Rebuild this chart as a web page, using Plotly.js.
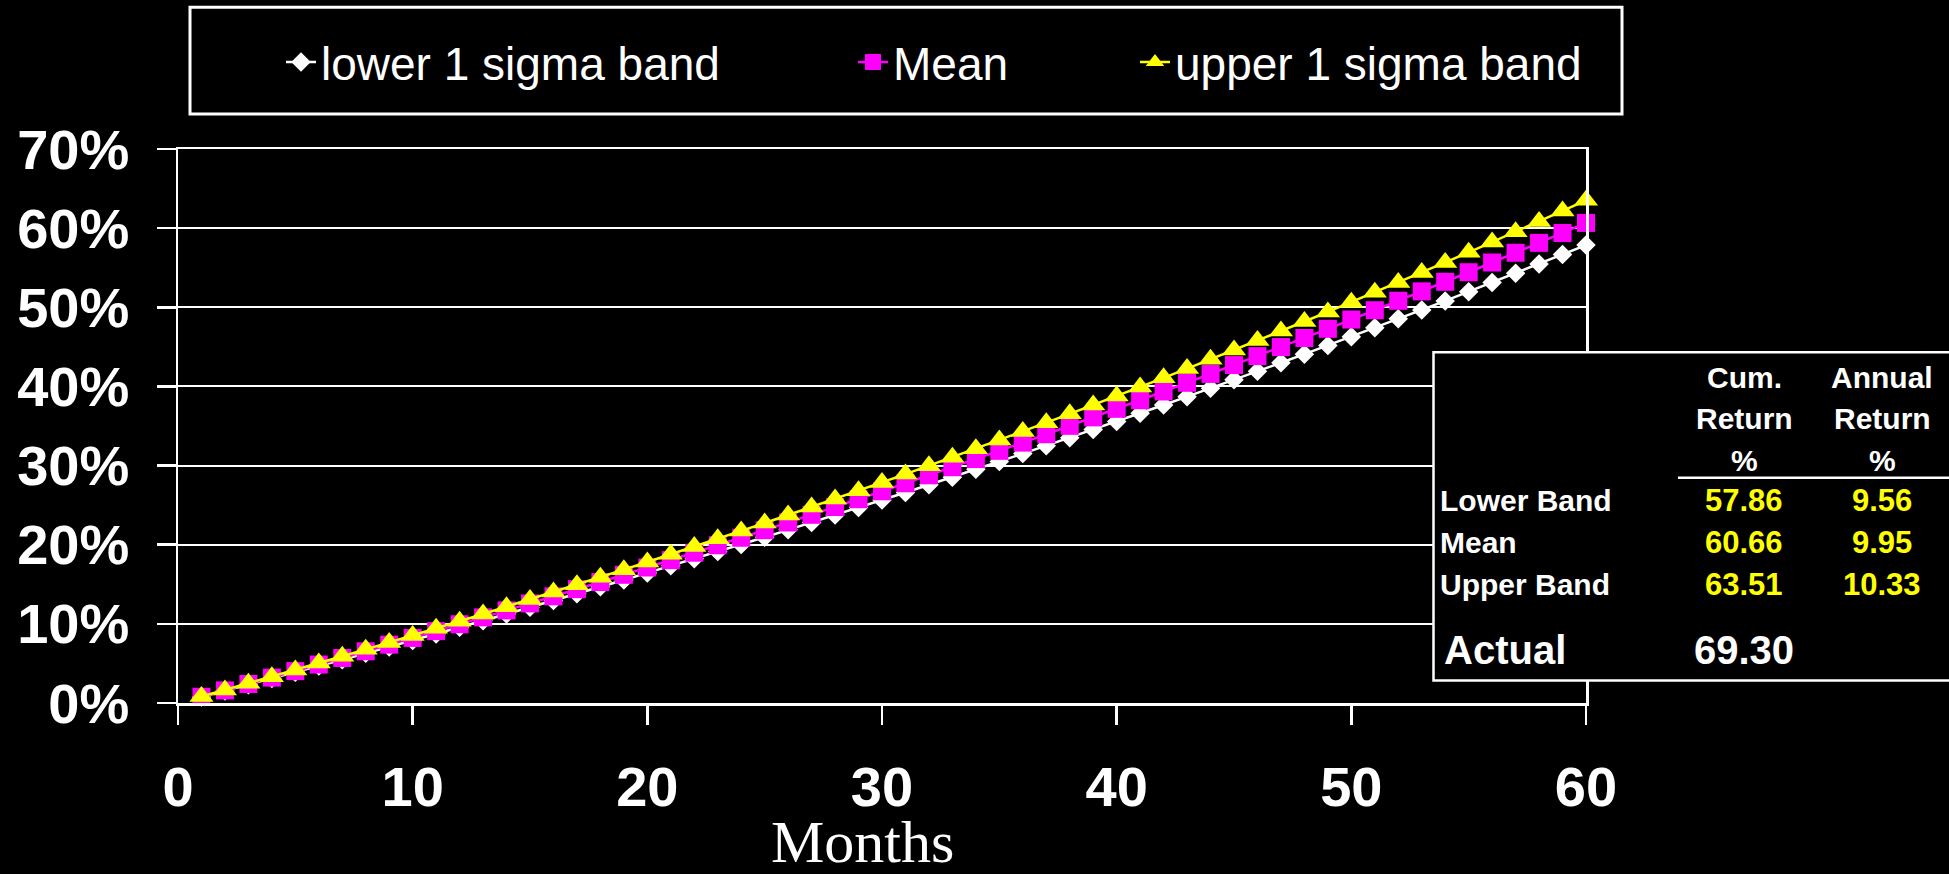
<!DOCTYPE html>
<html>
<head>
<meta charset="utf-8">
<script src="https://cdn.plot.ly/plotly-3.0.1.min.js"></script>
<style>
  html, body { margin: 0; padding: 0; background: #000; }
  #chart { width: 1949px; height: 874px; }
</style>
</head>
<body>
<div id="chart"></div>
<script>
// ---------- data ----------
const months = [1,2,3,4,5,6,7,8,9,10,11,12,13,14,15,16,17,18,19,20,
  21,22,23,24,25,26,27,28,29,30,31,32,33,34,35,36,37,38,39,40,
  41,42,43,44,45,46,47,48,49,50,51,52,53,54,55,56,57,58,59,60];

const lowerBand = [0.76,1.53,2.31,3.09,3.88,4.67,5.47,6.28,7.09,7.91,8.73,9.56,
  10.40,11.24,12.09,12.95,13.81,14.68,15.55,16.44,17.33,18.22,19.13,20.04,
  20.95,21.88,22.81,23.74,24.69,25.64,26.60,27.57,28.54,29.52,30.51,31.51,
  32.52,33.53,34.55,35.58,36.61,37.65,38.71,39.76,40.83,41.91,42.99,44.08,
  45.18,46.29,47.41,48.54,49.67,50.81,51.97,53.13,54.30,55.48,56.66,57.86];

const meanLine = [0.79,1.59,2.40,3.21,4.03,4.86,5.69,6.53,7.37,8.22,9.08,9.95,
  10.82,11.70,12.58,13.48,14.38,15.28,16.20,17.12,18.05,18.99,19.93,20.88,
  21.84,22.81,23.78,24.76,25.75,26.75,27.76,28.77,29.79,30.82,31.86,32.90,
  33.96,35.02,36.09,37.17,38.26,39.36,40.46,41.58,42.70,43.83,44.97,46.12,
  47.28,48.45,49.63,50.82,52.01,53.22,54.43,55.66,56.89,58.14,59.39,60.66];

const upperBand = [0.82,1.65,2.49,3.33,4.18,5.04,5.90,6.78,7.65,8.54,9.43,10.33,
  11.24,12.16,13.08,14.01,14.95,15.90,16.85,17.81,18.78,19.76,20.74,21.74,
  22.74,23.75,24.77,25.79,26.83,27.87,28.92,29.99,31.06,32.13,33.22,34.32,
  35.42,36.54,37.66,38.79,39.94,41.09,42.25,43.42,44.60,45.79,46.99,48.20,
  49.42,50.65,51.89,53.14,54.40,55.67,56.95,58.24,59.54,60.85,62.18,63.51];

const seriesNames = ["lower 1 sigma band", "Mean", "upper 1 sigma band"];

const tableRowLabels = ["Lower Band", "Mean", "Upper Band"];
const cumReturn = ["57.86", "60.66", "63.51"];
const annualReturn = ["9.56", "9.95", "10.33"];
const tableHeaderCum = ["Cum.", "Return", "%"];
const tableHeaderAnnual = ["Annual", "Return", "%"];
const actualLabel = "Actual";
const actualCum = "69.30";

const yTicks = [0,10,20,30,40,50,60,70];
const xTicks = [0,10,20,30,40,50,60];
const xTitle = "Months";

// ---------- layout helpers (pixel -> paper) ----------
const PX0 = 178, PX1 = 1586, PY0 = 703.5, PY1 = 149;
const px = x => (x - PX0) / (PX1 - PX0);
const py = y => (PY0 - y) / (PY0 - PY1);

const SANS = "Liberation Sans, Arial, sans-serif";
const SERIF = "Liberation Serif, Times New Roman, serif";
const WHITE = "#ffffff", MAGENTA = "#ff00ff", YELLOW = "#ffff00";

const traces = [
  { x: months, y: lowerBand, name: seriesNames[0], type: "scatter", mode: "lines+markers",
    line: { color: WHITE, width: 2.5 },
    marker: { symbol: "diamond", size: 15, color: WHITE },
    cliponaxis: false, legend: "legend" },
  { x: months, y: meanLine, name: seriesNames[1], type: "scatter", mode: "lines+markers",
    line: { color: MAGENTA, width: 2.5 },
    marker: { symbol: "square", size: 18, color: MAGENTA },
    cliponaxis: false, legend: "legend2" },
  { x: months, y: upperBand, name: seriesNames[2], type: "scatter", mode: "lines+markers",
    line: { color: YELLOW, width: 2.5 },
    marker: { symbol: "triangle-up", size: 21, color: YELLOW },
    cliponaxis: false, legend: "legend3" }
];

const legendFont = { family: SANS, size: 46, color: WHITE };
const legendTextX = [326, 898, 1180];
function mkLegend(i) {
  return {
    x: px(legendTextX[i] - 45), y: py(62), xanchor: "left", yanchor: "middle",
    orientation: "h", bgcolor: "rgba(0,0,0,0)", borderwidth: 0,
    font: legendFont, itemsizing: "trace"
  };
}

const annotations = [];
function addText(text, xPix, yPix, size, color, anchor) {
  annotations.push({
    text: text, xref: "paper", yref: "paper", x: px(xPix), y: py(yPix),
    xanchor: anchor || "center", yanchor: "middle", showarrow: false,
    font: { family: SANS, size: size, color: color, weight: "bold" }
  });
}
const headY = [378, 419, 461];
tableHeaderCum.forEach((t, i) => addText(t, 1744, headY[i], 30, WHITE));
tableHeaderAnnual.forEach((t, i) => addText(t, 1882, headY[i], 30, WHITE));
const rowY = [501, 543, 585];
tableRowLabels.forEach((t, i) => addText(t, 1438, rowY[i], 30, WHITE, "left"));
cumReturn.forEach((t, i) => addText(t, 1744, rowY[i], 31, YELLOW));
annualReturn.forEach((t, i) => addText(t, 1882, rowY[i], 31, YELLOW));
addText(actualLabel, 1442, 650, 40, WHITE, "left");
addText(actualCum, 1744, 650, 40, WHITE);

// x axis title
annotations.push({
  text: xTitle, xref: "paper", yref: "paper", x: px(862), y: py(843),
  xanchor: "center", yanchor: "middle", showarrow: false,
  font: { family: SERIF, size: 60, color: WHITE }
});

const shapes = [
  // legend frame
  { type: "rect", xref: "paper", yref: "paper",
    x0: px(190), x1: px(1622), y0: py(114), y1: py(7),
    line: { color: WHITE, width: 3 }, fillcolor: "rgba(0,0,0,0)", layer: "above" },
  // statistics table frame
  { type: "rect", xref: "paper", yref: "paper",
    x0: px(1433.5), x1: px(1990), y0: py(681), y1: py(352.5),
    line: { color: WHITE, width: 2.5 }, fillcolor: "#000000", layer: "above" },
  // header underline
  { type: "line", xref: "paper", yref: "paper",
    x0: px(1678), x1: px(1990), y0: py(478), y1: py(478),
    line: { color: WHITE, width: 2.5 }, layer: "above" }
];

const axisCommon = {
  showline: true, linecolor: WHITE, linewidth: 2.5, mirror: true,
  ticks: "outside", ticklen: 19, tickwidth: 2.5, tickcolor: WHITE,
  zeroline: false, fixedrange: true
};

const layout = {
  width: 1949, height: 874,
  paper_bgcolor: "#000000", plot_bgcolor: "#000000",
  margin: { l: PX0, r: 1949 - PX1, t: PY1, b: 874 - PY0, pad: 0 },
  showlegend: true,
  legend: mkLegend(0), legend2: mkLegend(1), legend3: mkLegend(2),
  xaxis: Object.assign({}, axisCommon, {
    range: [0, 60], tickvals: xTicks, ticktext: xTicks.map(String),
    showgrid: false, ticklabelstandoff: 14,
    tickfont: { family: SANS, size: 56, color: WHITE, weight: "bold" }
  }),
  yaxis: Object.assign({}, axisCommon, {
    range: [0, 70], tickvals: yTicks, ticktext: yTicks.map(v => v + "%"),
    showgrid: true, gridcolor: WHITE, gridwidth: 2, ticklabelstandoff: 16,
    tickfont: { family: SANS, size: 56, color: WHITE, weight: "bold" }
  }),
  shapes: shapes,
  annotations: annotations
};

Plotly.newPlot("chart", traces, layout, { displayModeBar: false, staticPlot: true });
</script>
</body>
</html>
